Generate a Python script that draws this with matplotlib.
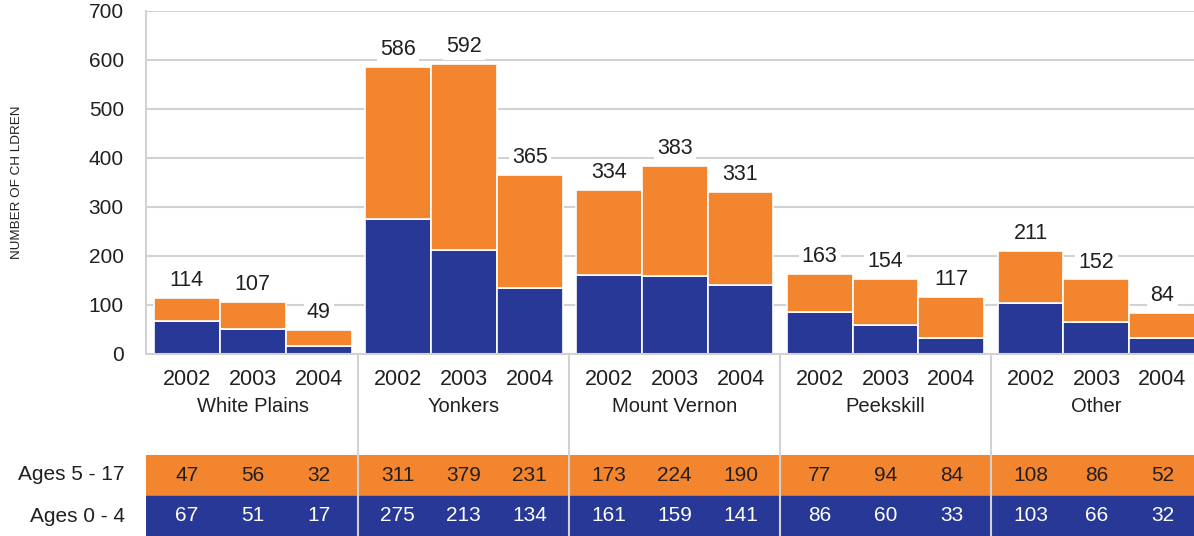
import numpy as np
import matplotlib.pyplot as plt
from matplotlib.transforms import blended_transform_factory

plt.rcParams['font.family'] = ['Liberation Sans', 'DejaVu Sans']

# data
places = ['White Plains', 'Yonkers', 'Mount Vernon', 'Peekskill', 'Other']
years = ['2002', '2003', '2004']
ages_0_4 = [67, 51, 17, 275, 213, 134, 161, 159, 141, 86, 60, 33, 103, 66, 32]
ages_5_17 = [47, 56, 32, 311, 379, 231, 173, 224, 190, 77, 94, 84, 108, 86, 52]
row_labels = ['Ages 5 - 17', 'Ages 0 - 4']

ORANGE = '#F2852E'
BLUE = '#283896'
GRID = '#D2D2D2'
TXT = '#231F20'

young = np.array(ages_0_4)
old = np.array(ages_5_17)
totals = young + old

group_step = 3.2
xs = np.array([g * group_step + i for g in range(len(places)) for i in range(len(years))])
centers = xs + 0.5
xlim = (-0.12, 15.78)

fig = plt.figure(figsize=(11.94, 5.36), dpi=100)
ax = fig.add_axes([0.1223, 0.3396, 0.8777, 0.640])

ax.bar(xs, young, width=1.0, align='edge', color=BLUE, edgecolor='white', linewidth=1.2, zorder=2)
ax.bar(xs, old, width=1.0, bottom=young, align='edge', color=ORANGE, edgecolor='white', linewidth=1.2, zorder=2)

for cx, t in zip(centers, totals):
    ax.annotate(str(t), (cx, t), xytext=(0, 5), textcoords='offset points',
                ha='center', va='bottom', fontsize=15.5, color=TXT, zorder=4,
                bbox=dict(boxstyle='square,pad=0.15', fc='white', ec='none'))

ax.set_xlim(*xlim)
ax.set_ylim(0, 700)
ax.set_yticks(range(0, 701, 100))
ax.yaxis.grid(True, color=GRID, linewidth=1.5, zorder=0)
ax.set_axisbelow(True)
ax.tick_params(axis='y', length=0, pad=16, labelsize=15, labelcolor=TXT)
ax.set_xticks(centers)
ax.set_xticklabels(years * len(places))
ax.tick_params(axis='x', length=0, pad=11, labelsize=15.5, labelcolor=TXT)

for side in ['top', 'right']:
    ax.spines[side].set_visible(False)
for side in ['left', 'bottom']:
    ax.spines[side].set_color(GRID)
    ax.spines[side].set_linewidth(1.5)

trans = blended_transform_factory(ax.transData, ax.transAxes)
for g, name in enumerate(places):
    ax.text(g * group_step + 1.5, -0.152, name, transform=trans, ha='center', va='center',
            fontsize=14.5, color=TXT)

# group separators run down through the table
seps = [g * group_step - 0.1 for g in range(1, len(places))]
for sx in seps:
    ax.plot([sx, sx], [0, -0.30], transform=trans, color=GRID, lw=1.5, clip_on=False)

# data table under the chart
tab = fig.add_axes([0.1223, 0.0, 0.8777, 81 / 536])
tab.set_xlim(*xlim)
tab.set_ylim(0, 2)
tab.axhspan(1, 2, color=ORANGE, zorder=0)
tab.axhspan(0, 1, color=BLUE, zorder=0)
for cx, a, b in zip(centers, old, young):
    tab.text(cx, 1.5, str(a), ha='center', va='center', fontsize=15, color=TXT)
    tab.text(cx, 0.5, str(b), ha='center', va='center', fontsize=15, color='white')
for sx in seps:
    tab.axvline(sx, color=GRID, lw=1.5, zorder=1)
tab.axis('off')
for i, lab in enumerate(row_labels):
    fig.text(125 / 1194, (61 - i * 41) / 536, lab, ha='right', va='center', fontsize=15, color=TXT)

fig.text(17 / 1194, 1 - 182 / 536, 'NUMBER OF CH LDREN', rotation=90, ha='center', va='center',
         fontsize=9.7, color=TXT)

fig.savefig('out.png', dpi=100)
